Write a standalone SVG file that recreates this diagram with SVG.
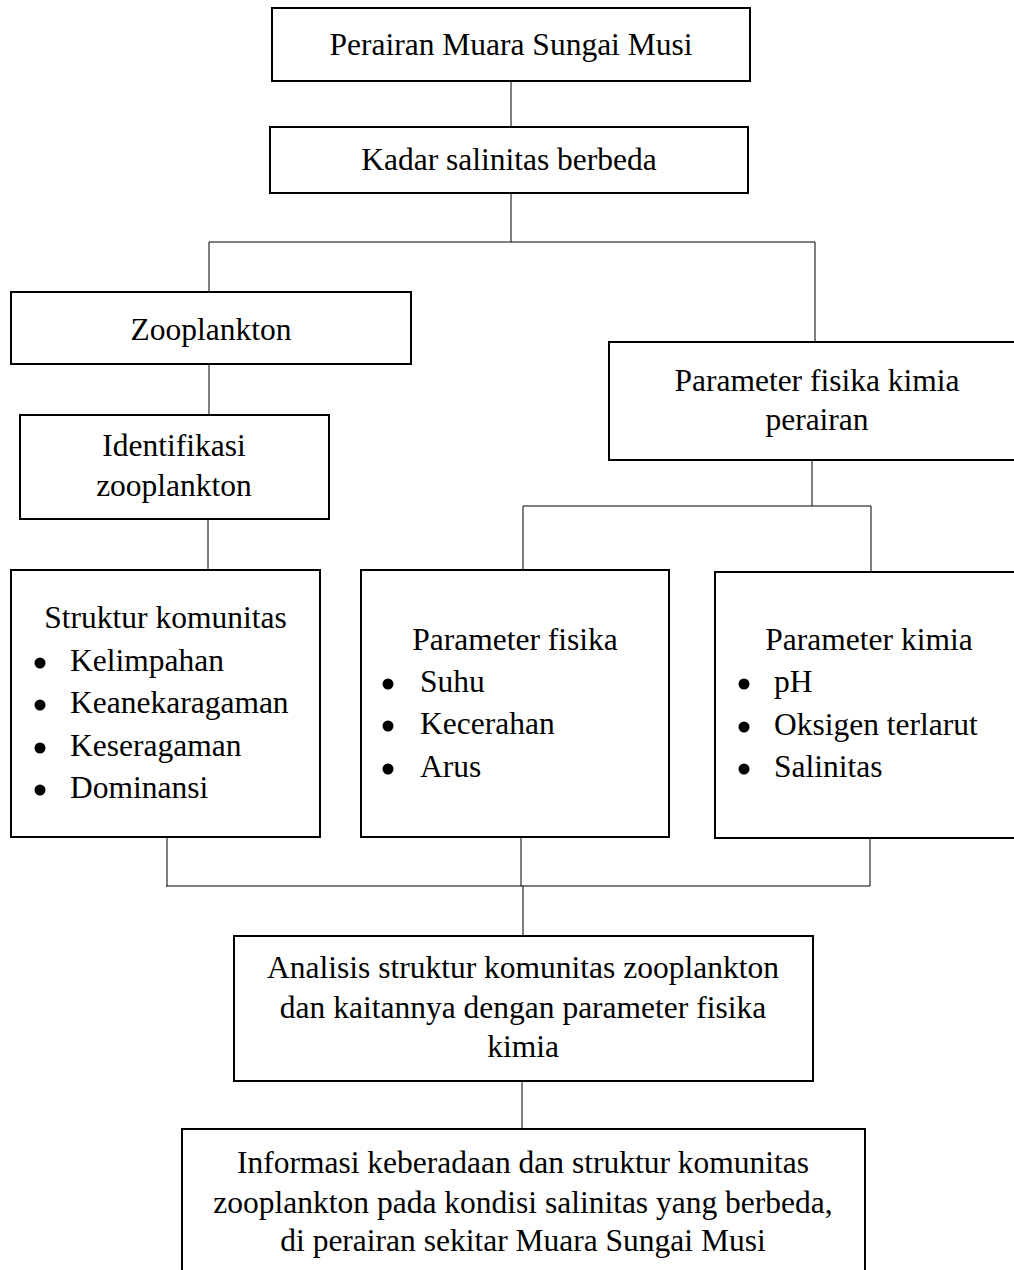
<svg xmlns="http://www.w3.org/2000/svg" width="1014" height="1270" viewBox="0 0 1014 1270">
<style>
.box{fill:#fff;stroke:#000;stroke-width:2}
.c{fill:none;stroke:#000;stroke-width:1}
.b{fill:#000}
text{font-family:"Liberation Serif","Times New Roman",serif;font-size:31.5px;fill:#000}
.m{text-anchor:middle}
</style>
<rect width="1014" height="1270" fill="#fff"/>
<g id="connectors">
<path class="c" d="M511 81V127"/>
<path class="c" d="M511 193V242M209 242H815M209 242V292M815 242V342"/>
<path class="c" d="M209 364V415"/>
<path class="c" d="M208 519V570"/>
<path class="c" d="M812 460V506M523 506H871M523 506V570M871 506V571"/>
<path class="c" d="M167 837V886M521 837V886M870 838V886M166 886H870M523 886V936"/>
<path class="c" d="M522 1081V1129"/>
</g>
<g id="n1"><rect class="box" x="272" y="8" width="478" height="73"/><text class="m" x="511" y="55">Perairan Muara Sungai Musi</text></g>
<g id="n2"><rect class="box" x="270" y="127" width="478" height="66"/><text class="m" x="509" y="170">Kadar salinitas berbeda</text></g>
<g id="n3"><rect class="box" x="11" y="292" width="400" height="72"/><text class="m" x="211" y="340">Zooplankton</text></g>
<g id="n4"><rect class="box" x="609" y="342" width="416" height="118"/><text class="m" x="817" y="391">Parameter fisika kimia</text><text class="m" x="817" y="430">perairan</text></g>
<g id="n5"><rect class="box" x="20" y="415" width="309" height="104"/><text class="m" x="174" y="456">Identifikasi</text><text class="m" x="174" y="496">zooplankton</text></g>
<g id="n6"><rect class="box" x="11" y="570" width="309" height="267"/>
<text class="m" x="165.5" y="628">Struktur komunitas</text>
<circle class="b" cx="40" cy="663" r="5.5"/><text x="70" y="671">Kelimpahan</text>
<circle class="b" cx="40" cy="705" r="5.5"/><text x="70" y="713">Keanekaragaman</text>
<circle class="b" cx="40" cy="748" r="5.5"/><text x="70" y="756">Keseragaman</text>
<circle class="b" cx="40" cy="790" r="5.5"/><text x="70" y="798">Dominansi</text></g>
<g id="n7"><rect class="box" x="361" y="570" width="308" height="267"/>
<text class="m" x="515" y="650">Parameter fisika</text>
<circle class="b" cx="388" cy="684" r="5.5"/><text x="420" y="692">Suhu</text>
<circle class="b" cx="388" cy="726" r="5.5"/><text x="420" y="734">Kecerahan</text>
<circle class="b" cx="388" cy="769" r="5.5"/><text x="420" y="777">Arus</text></g>
<g id="n8"><rect class="box" x="715" y="572" width="308" height="266"/>
<text class="m" x="869" y="650">Parameter kimia</text>
<circle class="b" cx="744" cy="684" r="5.5"/><text x="774" y="692">pH</text>
<circle class="b" cx="744" cy="727" r="5.5"/><text x="774" y="735">Oksigen terlarut</text>
<circle class="b" cx="744" cy="769" r="5.5"/><text x="774" y="777">Salinitas</text></g>
<g id="n9"><rect class="box" x="234" y="936" width="579" height="145"/>
<text class="m" x="523" y="978">Analisis struktur komunitas zooplankton</text>
<text class="m" x="523" y="1018">dan kaitannya dengan parameter fisika</text>
<text class="m" x="523" y="1057">kimia</text></g>
<g id="n10"><rect class="box" x="182" y="1129" width="683" height="160"/>
<text class="m" x="523" y="1173">Informasi keberadaan dan struktur komunitas</text>
<text class="m" x="523" y="1213">zooplankton pada kondisi salinitas yang berbeda,</text>
<text class="m" x="523" y="1251">di perairan sekitar Muara Sungai Musi</text></g>
</svg>
